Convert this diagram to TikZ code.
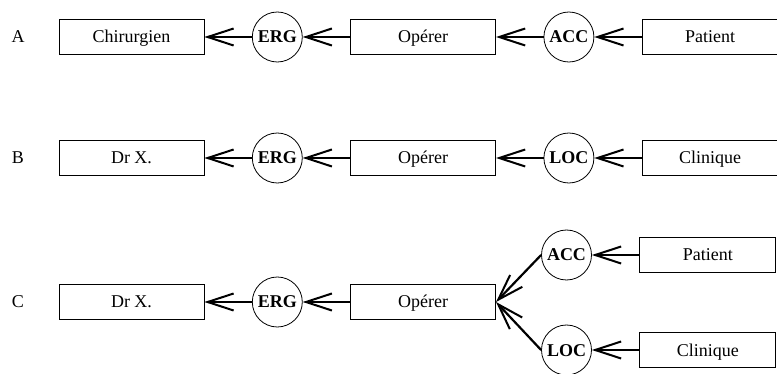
\documentclass[tikz,border=0pt]{standalone}
\usepackage{fontspec}
\setmainfont{Liberation Serif}
\usepackage{tikz}
\usetikzlibrary{arrows.meta,positioning}

\begin{document}
\begin{tikzpicture}[
    x=1pt, y=-1pt,
    node distance=47.5pt,
    font=\fontsize{18}{22}\selectfont,
    word/.style={rectangle, draw, line width=0.8pt, minimum width=#1, minimum height=35pt, inner sep=0pt, text height=12pt, text depth=0pt},
    word/.default=145pt,
    role/.style={circle, draw, line width=0.8pt, minimum size=50pt, inner sep=0pt, text height=12pt, text depth=0pt, font=\fontsize{18}{22}\selectfont\bfseries},
    rowlab/.style={inner sep=0pt, text height=12pt, text depth=0pt},
    arrow/.style={-{Straight Barb[length=26pt, width=17pt, line width=2pt]}, line width=2.2pt}
]
    \useasboundingbox (0,0) rectangle (777,374);

    % row A
    \node[rowlab] (labA) at (18,37) {A};
    \node[word] (chirA) at (131.5,37) {Chirurgien};
    \node[role, right=of chirA] (ergA) {ERG};
    \node[word, right=of ergA] (opA) {Opérer};
    \node[role, right=of opA] (accA) {ACC};
    \node[word=136pt, right=of accA] (patA) {Patient};

    % row B
    \node[rowlab] (labB) at (18,158) {B};
    \node[word] (drB) at (131.5,158) {Dr X.};
    \node[role, right=of drB] (ergB) {ERG};
    \node[word, right=of ergB] (opB) {Opérer};
    \node[role, right=of opB] (locB) {LOC};
    \node[word=136pt, right=of locB] (cliB) {Clinique};

    % row C
    \node[rowlab] (labC) at (18,302) {C};
    \node[word] (drC) at (131.5,302) {Dr X.};
    \node[role, right=of drC] (ergC) {ERG};
    \node[word, right=of ergC] (opC) {Opérer};
    \node[role] (accC) at (566.5,255) {ACC};
    \node[role] (locC) at (566.5,350) {LOC};
    \node[word=136pt, right=of accC] (patC) {Patient};
    \node[word=136pt, right=of locC] (cliC) {Clinique};

    \draw[arrow] (ergA) -- (chirA);
    \draw[arrow] (opA) -- (ergA);
    \draw[arrow] (accA) -- (opA);
    \draw[arrow] (patA) -- (accA);

    \draw[arrow] (ergB) -- (drB);
    \draw[arrow] (opB) -- (ergB);
    \draw[arrow] (locB) -- (opB);
    \draw[arrow] (cliB) -- (locB);

    \draw[arrow] (ergC) -- (drC);
    \draw[arrow] (opC) -- (ergC);
    \draw[arrow] (accC.west) -- (opC.east);
    \draw[arrow] (locC.west) -- (opC.east);
    \draw[arrow] (patC) -- (accC);
    \draw[arrow] (cliC) -- (locC);
\end{tikzpicture}
\end{document}
